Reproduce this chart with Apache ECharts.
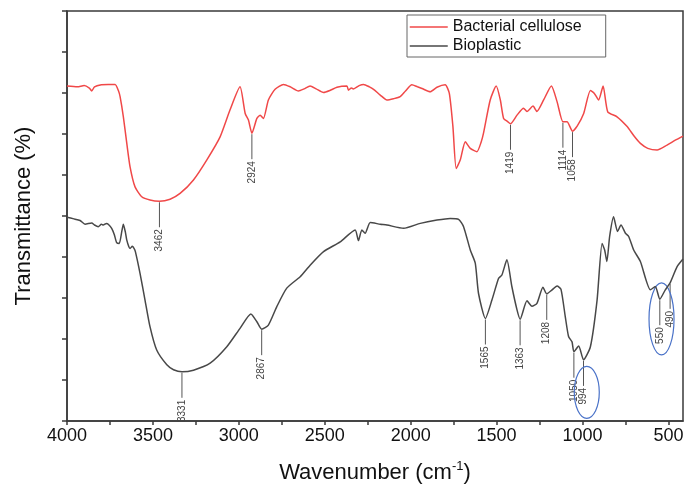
<!DOCTYPE html>
<html>
<head>
<meta charset="utf-8">
<script src="https://cdn.jsdelivr.net/npm/echarts@6/dist/echarts.min.js"></script>
<style>
  html, body { margin: 0; padding: 0; background: #fff; }
  #chart { width: 685px; height: 486px; }
</style>
</head>
<body>
<div id="chart"></div>
<script>
// Bacterial cellulose spectrum (wavenumber, transmittance in arbitrary plot units)
const bcWavenumber = [4000, 3940, 3900, 3870, 3856, 3840, 3800, 3760, 3720, 3700, 3691, 3672, 3652, 3633, 3604, 3565, 3517, 3462, 3400, 3342, 3264, 3186, 3109, 3051, 2993, 2963, 2944, 2924, 2895, 2876, 2857, 2828, 2789, 2740, 2700, 2653, 2620, 2585, 2550, 2507, 2470, 2429, 2371, 2362, 2345, 2333, 2300, 2274, 2240, 2216, 2177, 2138, 2100, 2061, 2030, 1993, 1960, 1934, 1886, 1847, 1799, 1775, 1754, 1735, 1711, 1682, 1653, 1614, 1590, 1576, 1537, 1502, 1478, 1459, 1435, 1419, 1381, 1343, 1323, 1288, 1265, 1226, 1181, 1148, 1114, 1090, 1058, 1030, 993, 954, 931, 906, 880, 853, 799, 740, 700, 663, 620, 566, 508, 460, 415]
const bcTransmittance = [8.17, 8.15, 8.18, 8.12, 8.05, 8.15, 8.20, 8.21, 8.21, 8.05, 7.91, 7.42, 6.77, 6.20, 5.71, 5.47, 5.39, 5.36, 5.41, 5.55, 5.88, 6.37, 6.93, 7.59, 8.15, 7.50, 7.34, 7.02, 7.38, 7.46, 7.38, 7.83, 8.09, 8.21, 8.15, 8.05, 8.10, 8.17, 8.10, 8.01, 8.06, 8.14, 8.17, 8.07, 8.12, 8.10, 8.18, 8.21, 8.15, 8.09, 7.95, 7.83, 7.86, 7.91, 8.05, 8.20, 8.15, 8.11, 8.03, 8.14, 8.20, 7.99, 7.18, 6.16, 6.37, 6.81, 6.65, 6.57, 6.80, 7.02, 7.83, 8.17, 7.83, 7.38, 7.30, 7.25, 7.46, 7.63, 7.55, 7.68, 7.55, 7.83, 8.17, 7.79, 7.30, 7.30, 7.07, 7.20, 7.50, 8.06, 7.99, 7.83, 8.17, 7.54, 7.42, 7.18, 6.95, 6.77, 6.65, 6.61, 6.73, 6.85, 6.95]

// Bioplastic spectrum
const bpWavenumber = [4000, 3960, 3924, 3895, 3856, 3840, 3818, 3800, 3789, 3770, 3760, 3740, 3725, 3711, 3696, 3680, 3672, 3660, 3652, 3640, 3633, 3620, 3610, 3602, 3575, 3546, 3517, 3478, 3419, 3380, 3331, 3264, 3167, 3070, 2993, 2930, 2895, 2867, 2828, 2779, 2721, 2643, 2585, 2507, 2410, 2323, 2304, 2284, 2265, 2235, 2177, 2138, 2041, 1944, 1847, 1770, 1721, 1692, 1653, 1624, 1605, 1565, 1527, 1488, 1469, 1440, 1411, 1381, 1363, 1323, 1294, 1265, 1230, 1208, 1177, 1148, 1125, 1100, 1081, 1061, 1050, 1022, 994, 954, 915, 886, 871, 858, 842, 819, 796, 776, 750, 731, 702, 663, 605, 576, 550, 518, 490, 450, 415]
const bpTransmittance = [4.97, 4.93, 4.89, 4.80, 4.83, 4.78, 4.74, 4.80, 4.78, 4.82, 4.80, 4.70, 4.55, 4.35, 4.33, 4.65, 4.80, 4.60, 4.41, 4.25, 4.21, 4.26, 4.21, 4.13, 3.60, 2.95, 2.30, 1.73, 1.37, 1.25, 1.20, 1.24, 1.41, 1.81, 2.26, 2.61, 2.42, 2.24, 2.34, 2.79, 3.24, 3.52, 3.80, 4.13, 4.37, 4.66, 4.40, 4.66, 4.58, 4.84, 4.80, 4.78, 4.70, 4.82, 4.90, 4.94, 4.92, 4.74, 4.17, 3.85, 3.11, 2.50, 2.95, 3.48, 3.56, 3.93, 3.28, 2.71, 2.48, 2.93, 2.80, 2.87, 3.26, 3.10, 3.20, 3.29, 3.21, 2.54, 2.06, 1.93, 1.69, 1.83, 1.49, 1.81, 2.95, 4.33, 4.17, 3.89, 4.50, 4.98, 4.62, 4.78, 4.58, 4.50, 4.17, 3.89, 3.20, 3.28, 2.97, 3.20, 3.37, 3.76, 3.95]

// labelled peaks
const bcPeaks = [3462, 2924, 1419, 1114, 1058]
const bpPeaks = [3331, 2867, 1565, 1363, 1208, 1050, 994, 550, 490]

// circled regions (wavenumber, transmittance at centre)
const circledX = [975, 540]
const circledY = [0.70, 2.49]

const xTicks = [500, 750, 1000, 1250, 1500, 1750, 2000, 2250, 2500, 2750, 3000, 3250, 3500, 3750, 4000]
const xLabels = [500, 1000, 1500, 2000, 2500, 3000, 3500, 4000]

const FONT = '"Liberation Sans", Arial, sans-serif'
const zip = (a, b) => a.map((v, i) => [v, b[i]])

// value of a curve at a given wavenumber (linear between read points)
function valueAt(xs, ys, x) {
  for (let i = 0; i < xs.length - 1; i++) {
    if (x <= xs[i] && x >= xs[i + 1]) {
      const t = (xs[i] - x) / (xs[i] - xs[i + 1])
      return ys[i] + t * (ys[i + 1] - ys[i])
    }
  }
  return ys[ys.length - 1]
}

const peakData = bcPeaks.map(w => [w, valueAt(bcWavenumber, bcTransmittance, w)])
  .concat(bpPeaks.map(w => [w, valueAt(bpWavenumber, bpTransmittance, w)]))

const ellipseRadii = [[12.5, 26], [12.5, 36]]

const chart = echarts.init(document.getElementById('chart'))

const option = {
  animation: false,
  backgroundColor: '#fff',
  grid: {
    left: 67, right: 2, top: 11, bottom: 65,
    outerBoundsMode: 'none',
    containLabel: false,
    show: true, borderColor: '#3a3a3a', borderWidth: 1.5
  },
  legend: {
    data: ['Bacterial cellulose', 'Bioplastic'],
    orient: 'vertical',
    left: 407, top: 15,
    padding: [4, 24, 3, 2],
    itemGap: 3,
    itemWidth: 38, itemHeight: 10,
    itemStyle: { opacity: 0 },
    lineStyle: { width: 1.5 },
    borderColor: '#666', borderWidth: 1,
    textStyle: { fontFamily: FONT, fontSize: 16, color: '#111', lineHeight: 16 }
  },
  xAxis: {
    type: 'value',
    inverse: true,
    min: 415, max: 4000,
    name: 'Wavenumber (cm{sup|-1})',
    nameLocation: 'middle',
    nameGap: 39,
    nameTextStyle: {
      fontFamily: FONT, fontSize: 22, color: '#111', lineHeight: 26,
      rich: { sup: { fontFamily: FONT, fontSize: 13, lineHeight: 13, verticalAlign: 'top', color: '#111' } }
    },
    axisLine: { lineStyle: { color: '#3a3a3a', width: 1.5 } },
    axisTick: { customValues: xTicks, length: 4, lineStyle: { color: '#3a3a3a', width: 1.5 } },
    axisLabel: { customValues: xLabels, margin: 6, fontFamily: FONT, fontSize: 18, color: '#111',
                 formatter: v => String(v) },
    splitLine: { show: false }
  },
  yAxis: {
    type: 'value',
    min: 0, max: 10, interval: 1,
    name: 'Transmittance (%)',
    nameLocation: 'middle',
    nameGap: 32,
    nameTextStyle: { fontFamily: FONT, fontSize: 22, color: '#111' },
    axisLine: { show: true, lineStyle: { color: '#3a3a3a', width: 1.5 } },
    axisTick: { show: true, length: 5, lineStyle: { color: '#3a3a3a', width: 1.5 } },
    axisLabel: { show: false },
    splitLine: { show: false }
  },
  series: [
    {
      name: 'Bacterial cellulose',
      type: 'line',
      data: zip(bcWavenumber, bcTransmittance),
      symbol: 'none',
      smooth: 0.2,
      lineStyle: { color: '#f04848', width: 1.5 },
      itemStyle: { color: '#f04848' }
    },
    {
      name: 'Bioplastic',
      type: 'line',
      data: zip(bpWavenumber, bpTransmittance),
      symbol: 'none',
      smooth: 0.2,
      lineStyle: { color: '#484848', width: 1.5 },
      itemStyle: { color: '#484848' }
    },
    {
      name: 'peaks',
      type: 'custom',
      clip: false,
      silent: true,
      data: peakData,
      renderItem(params, api) {
        const p = api.coord([api.value(0), api.value(1)])
        const len = 26
        return {
          type: 'group',
          children: [
            { type: 'line', shape: { x1: p[0], y1: p[1] + 1, x2: p[0], y2: p[1] + len },
              style: { stroke: '#555', lineWidth: 1 } },
            { type: 'text', x: p[0], y: p[1] + len + 2, rotation: Math.PI / 2,
              style: { text: String(api.value(0)), align: 'right', verticalAlign: 'middle',
                       fontSize: 10, fontFamily: FONT, fill: '#444' } }
          ]
        }
      }
    },
    {
      name: 'circles',
      type: 'custom',
      clip: false,
      silent: true,
      data: zip(circledX, circledY),
      renderItem(params, api) {
        const p = api.coord([api.value(0), api.value(1)])
        const r = ellipseRadii[params.dataIndex]
        return {
          type: 'ellipse',
          shape: { cx: p[0], cy: p[1], rx: r[0], ry: r[1] },
          style: { fill: 'none', stroke: '#4a72c8', lineWidth: 1.2 }
        }
      }
    }
  ]
}

chart.setOption(option)
</script>
</body>
</html>
